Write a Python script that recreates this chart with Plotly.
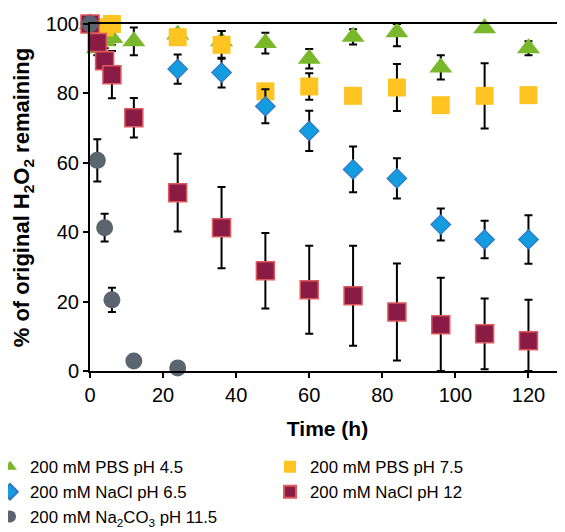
import plotly.graph_objects as go

FONT = "Liberation Sans, Arial, sans-serif"

# ---- data ----
green_t = [0, 2, 4, 6, 12, 24, 36, 48, 60, 72, 84, 96, 108, 120]
green_y = [100, 93, 95, 96, 95, 97, 95, 94.5, 90, 96.3, 97.6, 87.5, 98.8, 93]
green_ep = [0, 2, 2, 2, 4, 1, 3, 3, 2.8, 2.2, 2.4, 3.5, 1, 2]
green_em = [0, 2, 2, 2, 4, 1, 3, 3, 2.8, 2.2, 4, 3.5, 1, 2]

yellow_t = [0, 2, 4, 6, 24, 36, 48, 60, 72, 84, 96, 108, 120]
yellow_y = [100, 99, 99, 100, 96.2, 94, 80.6, 82, 79.3, 81.7, 76.6, 79.3, 79.5]
yellow_e = [0, 0, 0, 0, 1, 4, 1, 3.8, 1, 6.8, 1, 9.4, 1]

blue_t = [0, 24, 36, 48, 60, 72, 84, 96, 108, 120]
blue_y = [100, 87, 86, 76.3, 69.2, 58.1, 55.5, 42.2, 37.9, 37.9]
blue_e = [0, 4.2, 4.3, 4.9, 5.8, 6.6, 5.8, 4.6, 5.4, 7]

red_t = [0, 2, 4, 6, 12, 24, 36, 48, 60, 72, 84, 96, 108, 120]
red_y = [100, 94.7, 89.4, 85.4, 73, 51.4, 41.3, 28.9, 23.4, 21.7, 17, 13.3, 10.7, 8.7]
red_ep = [0, 2, 2, 6.8, 5.7, 11.2, 11.7, 10.9, 12.7, 14.4, 14, 13.6, 10.2, 11.8]
red_em = [0, 2, 2, 6.8, 5.7, 11.2, 11.7, 10.9, 12.7, 14.4, 14, 13.3, 10.2, 8.7]

gray_t = [0, 2, 4, 6, 12, 24]
gray_y = [100, 60.7, 41.3, 20.5, 2.9, 0.9]
gray_e = [0, 6.1, 4, 3.5, 0, 0]

names = ["200 mM PBS pH 4.5", "200 mM PBS pH 7.5", "200 mM NaCl pH 6.5",
         "200 mM NaCl pH 12", "200 mM Na<sub>2</sub>CO<sub>3</sub> pH 11.5"]

C_GREEN = "#78B82A"
C_YELLOW = "#FFC421"
C_BLUE = "#139DE0"
C_BLUE_LINE = "#3475C4"
C_RED = "#8A1B44"
C_RED_LINE = "#DE5A5C"
C_GRAY = "#5A6570"


def err(plus, minus=None):
    d = dict(type="data", symmetric=minus is None, array=plus, color="black",
             thickness=2, width=4)
    if minus is not None:
        d["arrayminus"] = minus
    return d


fig = go.Figure()
specs = [
    (green_t, green_y, err(green_ep, green_em), dict(symbol="triangle-up", size=20, color=C_GREEN,
                                                      line=dict(width=0))),
    (yellow_t, yellow_y, err(yellow_e), dict(symbol="square", size=18, color=C_YELLOW,
                                             line=dict(width=0))),
    (blue_t, blue_y, err(blue_e), dict(symbol="diamond", size=15, color=C_BLUE,
                                       line=dict(width=1.2, color=C_BLUE_LINE))),
    (red_t, red_y, err(red_ep, red_em), dict(symbol="square", size=18, color=C_RED,
                                             line=dict(width=1.5, color=C_RED_LINE))),
    (gray_t, gray_y, err(gray_e), dict(symbol="circle", size=17, color=C_GRAY,
                                       line=dict(width=0))),
]
for (t, y, e, m), nm in zip(specs, names):
    fig.add_trace(go.Scatter(x=t, y=y, mode="markers", name=nm, marker=m,
                             error_y=e, cliponaxis=False, showlegend=True))

# page body has an 8px margin, so the figure is 8px smaller than the window
fig.update_layout(
    width=557, height=524,
    margin=dict(l=82, r=0, t=16, b=161, autoexpand=False),
    paper_bgcolor="white", plot_bgcolor="white",
    font=dict(family=FONT, size=20, color="black"),
    showlegend=True,
    legend=dict(orientation="h", x=-0.2105, xanchor="left", y=-0.226, yanchor="top",
                entrywidth=235, entrywidthmode="pixels", itemsizing="constant",
                font=dict(size=16.8), tracegroupgap=0, traceorder="normal",
                bgcolor="rgba(0,0,0,0)"),
    xaxis=dict(range=[0, 130], tickvals=[0, 20, 40, 60, 80, 100, 120],
               showline=True, linecolor="black", linewidth=2, mirror=True,
               ticks="outside", ticklen=5, tickwidth=2, tickcolor="black",
               showgrid=False, zeroline=False,
               title=dict(text="Time (h)", font=dict(size=21, weight="bold"), standoff=16)),
    yaxis=dict(range=[0, 100], tickvals=[0, 20, 40, 60, 80, 100],
               showline=True, linecolor="black", linewidth=2,
               ticks="outside", ticklen=5, tickwidth=2, tickcolor="black",
               showgrid=False, zeroline=False,
               title=dict(text="% of original H<sub>2</sub>O<sub>2</sub> remaining",
                          font=dict(size=22, weight="bold"), standoff=10)),
)

fig.write_html("out.html")
